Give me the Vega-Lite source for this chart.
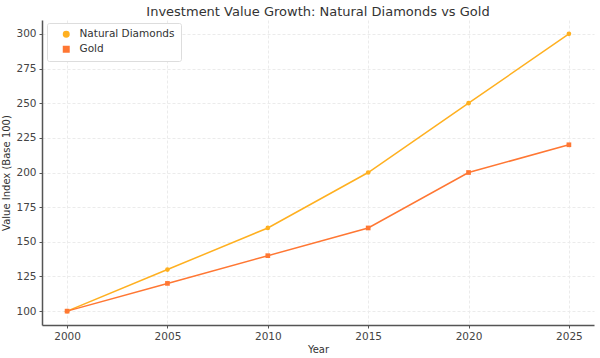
{
  "$schema": "https://vega.github.io/schema/vega-lite/v6.json",
  "width": 552,
  "height": 305,
  "autosize": "none",
  "padding": {"left": 42, "top": 20, "right": 6, "bottom": 33},
  "background": "white",
  "title": {"text": "Investment Value Growth: Natural Diamonds vs Gold", "fontSize": 13, "fontWeight": "normal", "color": "#333333", "font": "DejaVu Sans", "offset": 1},
  "config": {
    "font": "DejaVu Sans",
    "view": {"stroke": null},
    "axis": {"labelFont": "DejaVu Sans", "titleFont": "DejaVu Sans", "labelFontSize": 10.5, "titleFontSize": 10, "labelColor": "#444444", "titleColor": "#333333", "titleFontWeight": "normal", "gridColor": "#ebebeb", "gridDash": [3, 2], "domainColor": "#555555", "domainWidth": 1.5, "tickColor": "#555555", "tickSize": 3}
  },
  "data": {"values": [
    {"Year": 2000, "Value": 100, "Series": "Natural Diamonds"},
    {"Year": 2005, "Value": 130, "Series": "Natural Diamonds"},
    {"Year": 2010, "Value": 160, "Series": "Natural Diamonds"},
    {"Year": 2015, "Value": 200, "Series": "Natural Diamonds"},
    {"Year": 2020, "Value": 250, "Series": "Natural Diamonds"},
    {"Year": 2025, "Value": 300, "Series": "Natural Diamonds"},
    {"Year": 2000, "Value": 100, "Series": "Gold"},
    {"Year": 2005, "Value": 120, "Series": "Gold"},
    {"Year": 2010, "Value": 140, "Series": "Gold"},
    {"Year": 2015, "Value": 160, "Series": "Gold"},
    {"Year": 2020, "Value": 200, "Series": "Gold"},
    {"Year": 2025, "Value": 220, "Series": "Gold"}
  ]},
  "mark": {"type": "line", "point": {"size": 22, "filled": true, "opacity": 1}, "strokeWidth": 1.5},
  "encoding": {
    "x": {"field": "Year", "type": "quantitative", "scale": {"domain": [1998.75, 2026.25], "nice": false, "zero": false}, "axis": {"values": [2000, 2005, 2010, 2015, 2020, 2025], "format": "d", "title": "Year", "titlePadding": 3, "labelPadding": 3}},
    "y": {"field": "Value", "type": "quantitative", "scale": {"domain": [90, 310], "nice": false, "zero": false}, "axis": {"values": [100, 125, 150, 175, 200, 225, 250, 275, 300], "title": "Value Index (Base 100)", "titlePadding": 4, "labelPadding": 3}},
    "color": {"field": "Series", "type": "nominal", "scale": {"domain": ["Natural Diamonds", "Gold"], "range": ["#FFB020", "#FF7733"]}, "legend": {"title": null, "orient": "none", "legendX": 5, "legendY": 3, "strokeColor": "#dddddd", "fillColor": "white", "padding": 6, "cornerRadius": 2, "labelFontSize": 10.5, "labelColor": "#333333", "symbolSize": 30, "symbolOffset": 8, "labelOffset": 8, "rowPadding": 3}},
    "shape": {"field": "Series", "type": "nominal", "scale": {"domain": ["Natural Diamonds", "Gold"], "range": ["circle", "square"]}, "legend": {"title": null, "orient": "none", "legendX": 5, "legendY": 3, "strokeColor": "#dddddd", "fillColor": "white", "padding": 6, "cornerRadius": 2, "labelFontSize": 10.5, "labelColor": "#333333", "symbolSize": 30, "symbolOffset": 8, "labelOffset": 8, "rowPadding": 3}}
  }
}
